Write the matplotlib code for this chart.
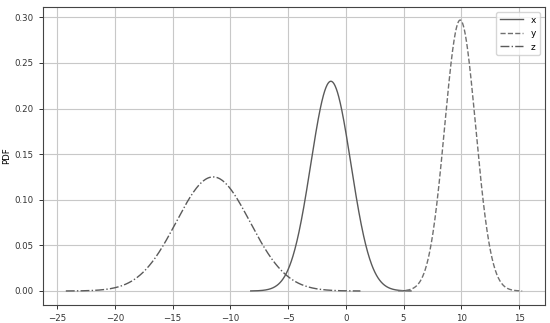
import numpy as np
import matplotlib
matplotlib.use("Agg")
import matplotlib.pyplot as plt

# Distribution parameters (mean, std), curves drawn over mean ± 4 std
labels = ["x", "y", "z"]
means = [-1.3, 9.9, -11.5]
stds = [1.735, 1.343, 3.19]
styles = ["-", "--", "-."]
colors = ["#5a5a5a", "#707070", "#5a5a5a"]

plt.rcParams["font.size"] = 6.2
fig = plt.figure(figsize=(5.5, 3.23), dpi=100)
ax = fig.add_axes([43/550, 1-304.5/323, (545-43)/550, (304.5-6.5)/323])

for lab, m, s, ls, c in zip(labels, means, stds, styles, colors):
    xs = np.linspace(m - 4*s, m + 4*s, 400)
    pdf = np.exp(-0.5*((xs - m)/s)**2) / (s*np.sqrt(2*np.pi))
    ax.plot(xs, pdf, ls, color=c, lw=1.0, label=lab)

ax.set_ylabel("PDF", labelpad=3)
ax.set_xticks([-25, -20, -15, -10, -5, 0, 5, 10, 15])
ax.set_yticks([0.0, 0.05, 0.10, 0.15, 0.20, 0.25, 0.30])
ax.tick_params(length=3, width=0.7, colors="#333333")
ax.grid(True, color="#c8c8c8", lw=0.8)
ax.set_axisbelow(True)
for sp in ax.spines.values():
    sp.set_color("#444444")
    sp.set_linewidth(0.8)
ax.legend(loc="upper right", fontsize=6.5, handlelength=2.6, borderaxespad=0.6)
fig.savefig("out.png", dpi=100)
